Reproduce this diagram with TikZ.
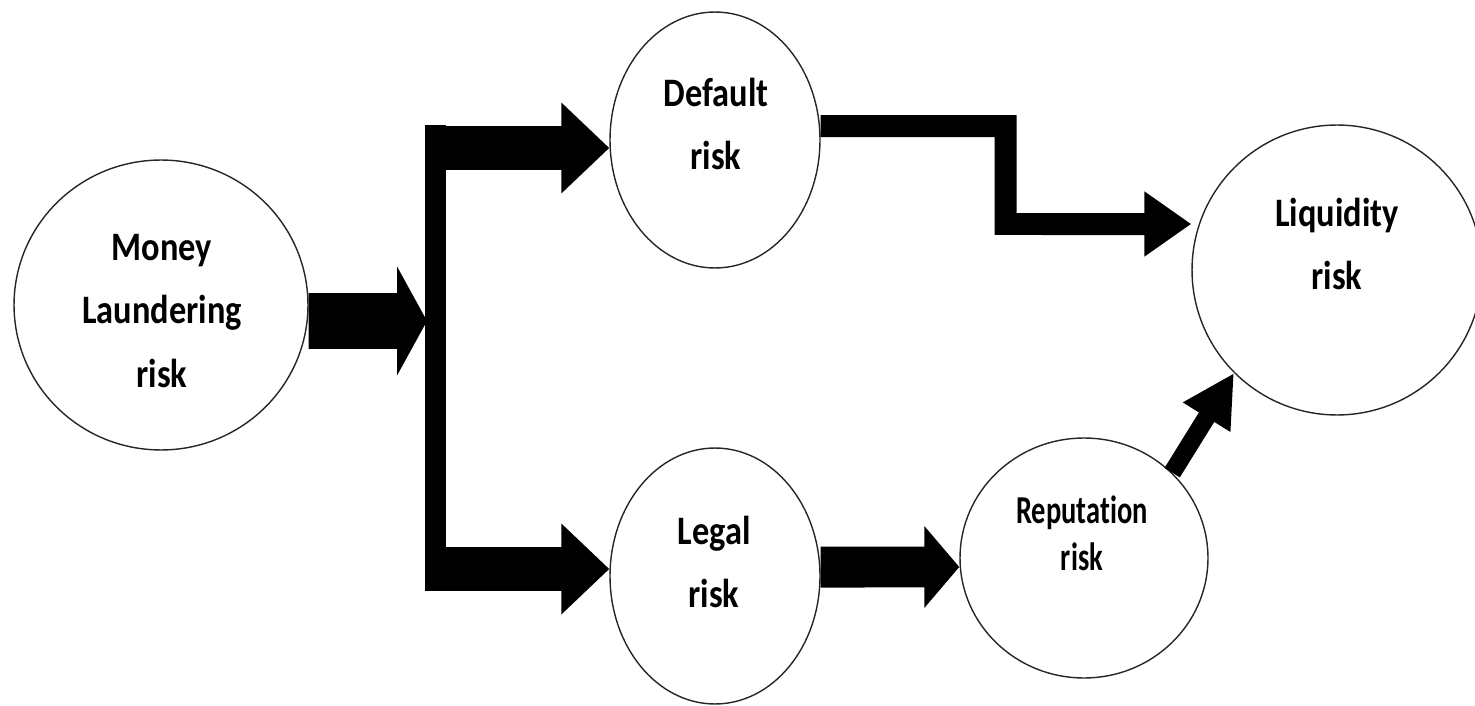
\documentclass[tikz,border=0pt]{standalone}
\usepackage{fontspec}
\setmainfont{Carlito}
\newfontfamily\riskfont{Carlito}[FakeStretch=0.85,Ligatures=NoCommon]
\newfontfamily\repfont{Carlito}[FakeStretch=0.72,Ligatures=NoCommon]
\usetikzlibrary{shapes.geometric,arrows.meta}
\begin{document}
\begin{tikzpicture}[x=0.02cm,y=-0.02cm,
  riskcircle/.style={draw=black!85,line width=0.8pt,ellipse,inner sep=0pt},
  risktext/.style={align=center,font=\riskfont\bfseries\fontsize{23}{36}\selectfont},
  reptext/.style={align=center,font=\repfont\bfseries\fontsize{22.5}{27}\selectfont},
  blockarrow/.style={line width=0.88cm,-{Triangle[length=0.96cm,width=1.76cm]}}]
\useasboundingbox (0,0) rectangle (1475,706);
\node[riskcircle,minimum width=5.88cm,minimum height=5.8cm] (ml) at (161,305) {};
\node[risktext] (mltext) at (162,311) {Money\\Laundering\\risk};
\node[riskcircle,minimum width=4.2cm,minimum height=5.12cm] (def) at (715,140) {};
\node[risktext] (deftext) at (716,124) {Default\\risk};
\node[riskcircle,minimum width=4.2cm,minimum height=5.12cm] (leg) at (715,576) {};
\node[risktext] (legtext) at (714,562) {Legal\\risk};
\node[riskcircle,minimum width=4.96cm,minimum height=4.8cm] (rep) at (1084,558) {};
\node[reptext] (reptext) at (1082,533) {Reputation\\risk};
\node[riskcircle,minimum size=5.8cm] (liq) at (1337,270) {};
\node[risktext] (liqtext) at (1337,244) {Liquidity\\risk};
\coordinate (forkin) at (427,321);
\coordinate (bartop) at (435.5,125);
\coordinate (barbot) at (435.5,591);
\coordinate (forkup) at (425,148);
\coordinate (forkdown) at (425,569);
\coordinate (bend) at (1005.5,224);
\draw[line width=0.42cm] (bartop) -- (barbot);
\draw[line width=1.12cm,-{Triangle[length=0.6cm,width=2.16cm]}] ([yshift=-0.32cm]ml.east) -- (forkin);
\draw[blockarrow] (forkup) -- (forkup -| def.west);
\draw[blockarrow] (forkdown) -- (forkdown -| leg.west);
\draw[line width=0.82cm,-{Triangle[length=0.7cm,width=1.6cm]}] ([yshift=0.18cm]leg.east) -- ([yshift=-0.18cm]rep.west);
\draw[line width=0.44cm,-{Triangle[length=0.94cm,width=1.24cm]}] ([yshift=0.28cm]def.east) -| (bend) -- ([yshift=0.92cm]liq.west);
\draw[line width=0.36cm,-{Triangle[length=1.04cm,width=1.04cm]}] (rep.north east) -- (liq.south west);
\end{tikzpicture}
\end{document}
